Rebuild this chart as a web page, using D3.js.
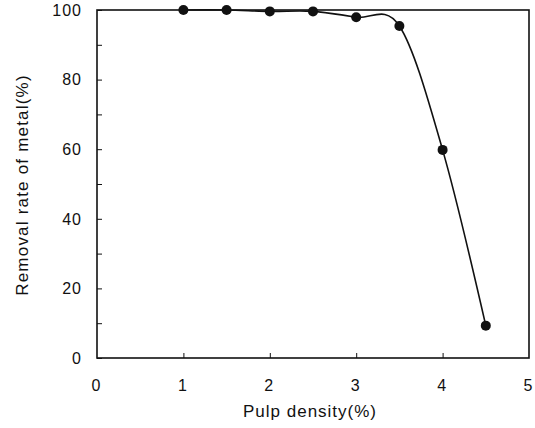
<!DOCTYPE html>
<html><head><meta charset="utf-8">
<script src="https://cdn.jsdelivr.net/npm/d3@7"></script>
<style>body{margin:0;background:#fff}svg{display:block}text{font-family:"Liberation Sans",Arial,sans-serif;fill:#111}</style>
</head><body><svg id="c" width="535" height="428"></svg>
<script>
const pulpDensity = [1, 1.5, 2, 2.5, 3, 3.5, 4, 4.5];
const removalRate = [100, 100, 99.6, 99.6, 97.9, 95.4, 59.8, 9.3];
const xTicks = [0, 1, 2, 3, 4, 5];
const yTicks = [0, 20, 40, 60, 80, 100];
const yMinorTicks = [10, 30, 50, 70, 90];

const svg = d3.select("#c");
const x = d3.scaleLinear().domain([0, 5]).range([97, 529]);
const y = d3.scaleLinear().domain([0, 100]).range([358, 10]);

// frame
svg.append("rect").attr("x", x(0)).attr("y", y(100))
  .attr("width", x(5) - x(0)).attr("height", y(0) - y(100))
  .attr("fill", "none").attr("stroke", "#111").attr("stroke-width", 1.6);

// y axis ticks (inward)
const yAxis = d3.axisRight(y).tickValues(yTicks.concat(yMinorTicks)).tickSize(5).tickFormat("");
svg.append("g").attr("transform", `translate(${x(0)},0)`).call(yAxis)
  .call(g => { g.select(".domain").remove(); g.selectAll("line").attr("stroke", "#111"); });
svg.append("g").selectAll("text").data(yTicks).join("text")
  .attr("x", 82).attr("y", d => y(d)).attr("dy", "0.36em")
  .attr("text-anchor", "end").attr("font-size", 16).attr("letter-spacing", 1).text(d => d);

// x axis ticks (inward)
const xAxis = d3.axisTop(x).tickValues(xTicks.slice(1, -1)).tickSize(5).tickFormat("");
svg.append("g").attr("transform", `translate(0,${y(0)})`).call(xAxis)
  .call(g => { g.select(".domain").remove(); g.selectAll("line").attr("stroke", "#111"); });
svg.append("g").selectAll("text").data(xTicks).join("text")
  .attr("x", d => x(d) - 1).attr("y", 391)
  .attr("text-anchor", "middle").attr("font-size", 16).text(d => d);

// titles
svg.append("text").attr("x", 310).attr("y", 417).attr("text-anchor", "middle")
  .attr("font-size", 17).attr("letter-spacing", 1).text("Pulp density(%)");
svg.append("text").attr("transform", `translate(28,${185}) rotate(-90)`)
  .attr("text-anchor", "middle").attr("font-size", 17).attr("letter-spacing", 1.2).text("Removal rate of metal(%)");

// curve
const data = pulpDensity.map((d, i) => [d, removalRate[i]]);
const line = d3.line().x(d => x(d[0])).y(d => y(d[1])).curve(d3.curveCatmullRom.alpha(0));
svg.append("path").datum(data).attr("d", line)
  .attr("fill", "none").attr("stroke", "#111").attr("stroke-width", 1.6);
svg.append("g").selectAll("circle").data(data).join("circle")
  .attr("cx", d => x(d[0])).attr("cy", d => y(d[1])).attr("r", 5).attr("fill", "#111");
</script></body></html>
